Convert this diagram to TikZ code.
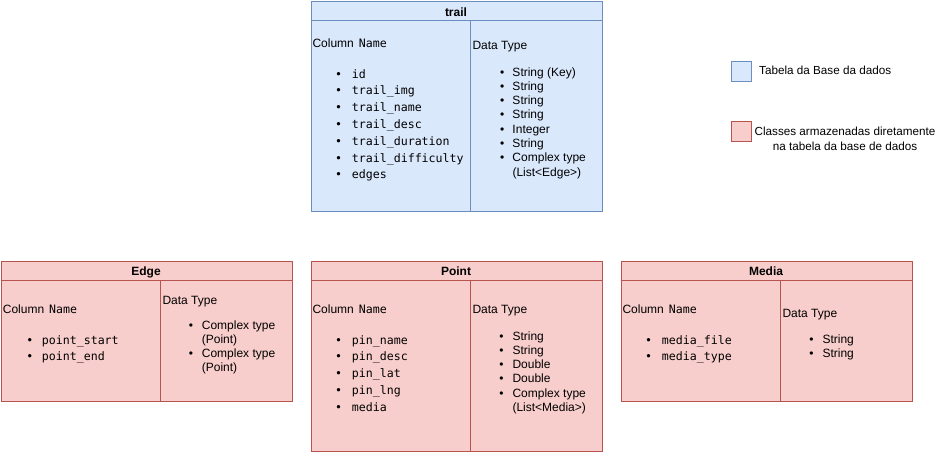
\documentclass[tikz,border=0pt]{standalone}
\usepackage{fontspec}
\setmainfont{Liberation Sans}
\newfontfamily\monof{DejaVu Sans Mono}
\definecolor{bfill}{HTML}{DAE8FC}
\definecolor{bline}{HTML}{6C8EBF}
\definecolor{rfill}{HTML}{F8CECC}
\definecolor{rline}{HTML}{B85450}
\newcommand\mybul[1]{\llap{\makebox[0pt]{\fontspec{Liberation Sans}\fontsize{12}{14}\selectfont •}\hspace{#1}}}
\newcommand\mymbul[1]{\llap{\makebox[0pt]{\monof\fontsize{11.6}{14}\selectfont •}\hspace{#1}}}
\newcommand\us{\char95\relax}
\newcommand\colname{Column\hspace{5pt}{\monof\fontsize{11.6}{14}\selectfont Name}}
\tikzset{
  tblbox/.style={draw, line width=0.9pt, anchor=north west, inner sep=0pt},
  bluetbl/.style={tblbox, fill=bfill, draw=bline},
  redtbl/.style={tblbox, fill=rfill, draw=rline},
  ttitle/.style={anchor=base, inner sep=0pt, font=\fontsize{12}{14}\selectfont\bfseries},
  sanst/.style={anchor=base west, inner sep=0pt, font=\fontsize{12}{14}\selectfont},
  monot/.style={anchor=base west, inner sep=0pt, font=\monof\fontsize{11.6}{14}\selectfont},
}
\begin{document}
\begin{tikzpicture}[x=1pt,y=-1pt]
\useasboundingbox (0,0) rectangle (941,451);

% ---------- trail ----------
\node[bluetbl, minimum width=291pt, minimum height=210pt] (trail) at (310.5,0.5) {};
\draw[bline, line width=0.9pt] ([yshift=-20pt]trail.north west) -- ([yshift=-20pt]trail.north east);
\draw[bline, line width=0.9pt] ([xshift=160pt,yshift=-20pt]trail.north west) -- ([xshift=160pt]trail.south west);
\node[ttitle] (trailT) at (456,16.5) {trail};
\node[sanst] (trailCN) at (312.3,47.5) {\colname};
\foreach \t [count=\i from 0] in {id,trail\us img,trail\us name,trail\us desc,trail\us duration,trail\us difficulty,edges}
  \node[monot] (trailc\i) at (351.7,78+16.8*\i) {\mymbul{13.4pt}\t};
\node[sanst] (trailDT) at (472.3,49) {Data Type};
\foreach \t/\b [count=\i from 0] in {String (Key)/1,String/1,String/1,String/1,Integer/1,String/1,Complex type/1,(List<Edge>)/0}
  \node[sanst] (traild\i) at (512.3,76+14.3*\i) {\ifnum\b=1 \mybul{10.2pt}\fi\t};

% ---------- Edge ----------
\node[redtbl, minimum width=291pt, minimum height=140pt] (edge) at (0.5,260.5) {};
\draw[rline, line width=0.9pt] ([yshift=-20pt]edge.north west) -- ([yshift=-20pt]edge.north east);
\draw[rline, line width=0.9pt] ([xshift=160pt,yshift=-20pt]edge.north west) -- ([xshift=160pt]edge.south west);
\node[ttitle] (edgeT) at (146,275.5) {Edge};
\node[sanst] (edgeCN) at (2.7,313) {\colname};
\foreach \t [count=\i from 0] in {point\us start,point\us end}
  \node[monot] (edgec\i) at (41.7,344+16.8*\i) {\mymbul{12pt}\t};
\node[sanst] (edgeDT) at (162.3,304) {Data Type};
\foreach \t/\b [count=\i from 0] in {Complex type/1,(Point)/0,Complex type/1,(Point)/0}
  \node[sanst] (edged\i) at (201.7,329+14.3*\i) {\ifnum\b=1 \mybul{11pt}\fi\t};

% ---------- Point ----------
\node[redtbl, minimum width=291pt, minimum height=190pt] (point) at (310.5,260.5) {};
\draw[rline, line width=0.9pt] ([yshift=-20pt]point.north west) -- ([yshift=-20pt]point.north east);
\draw[rline, line width=0.9pt] ([xshift=160pt,yshift=-20pt]point.north west) -- ([xshift=160pt]point.south west);
\node[ttitle] (pointT) at (456,275.5) {Point};
\node[sanst] (pointCN) at (312.3,313) {\colname};
\foreach \t [count=\i from 0] in {pin\us name,pin\us desc,pin\us lat,pin\us lng,media}
  \node[monot] (pointc\i) at (351.7,344+16.8*\i) {\mymbul{13.4pt}\t};
\node[sanst] (pointDT) at (472.3,313.3) {Data Type};
\foreach \t/\b [count=\i from 0] in {String/1,String/1,Double/1,Double/1,Complex type/1,(List<Media>)/0}
  \node[sanst] (pointd\i) at (512.3,340+14.3*\i) {\ifnum\b=1 \mybul{11pt}\fi\t};

% ---------- Media ----------
\node[redtbl, minimum width=291pt, minimum height=140pt] (media) at (620.5,260.5) {};
\draw[rline, line width=0.9pt] ([yshift=-20pt]media.north west) -- ([yshift=-20pt]media.north east);
\draw[rline, line width=0.9pt] ([xshift=160pt,yshift=-20pt]media.north west) -- ([xshift=160pt]media.south west);
\node[ttitle] (mediaT) at (766,275.5) {Media};
\node[sanst] (mediaCN) at (622.3,313) {\colname};
\foreach \t [count=\i from 0] in {media\us file,media\us type}
  \node[monot] (mediac\i) at (661.7,344+16.8*\i) {\mymbul{13.4pt}\t};
\node[sanst] (mediaDT) at (782.3,317.7) {Data Type};
\foreach \t [count=\i from 0] in {String,String}
  \node[sanst] (mediad\i) at (822.3,343.3+14.3*\i) {\mybul{11pt}\t};

% ---------- Legend ----------
\node[bluetbl, minimum width=20pt, minimum height=20pt] (lgb) at (730.5,60.5) {};
\node[sanst, font=\fontsize{11.7}{14}\selectfont] (lgbt) at (759,74) {Tabela da Base da dados};
\node[redtbl, minimum width=20pt, minimum height=20pt] (lgr) at (730.5,120.5) {};
\node[anchor=base, inner sep=0pt, font=\fontsize{11.7}{14}\selectfont] (lgrt1) at (845,135) {Classes armazenadas diretamente};
\node[anchor=base, inner sep=0pt, font=\fontsize{11.7}{14}\selectfont] (lgrt2) at (845,150) {na tabela da base de dados};
\end{tikzpicture}
\end{document}
